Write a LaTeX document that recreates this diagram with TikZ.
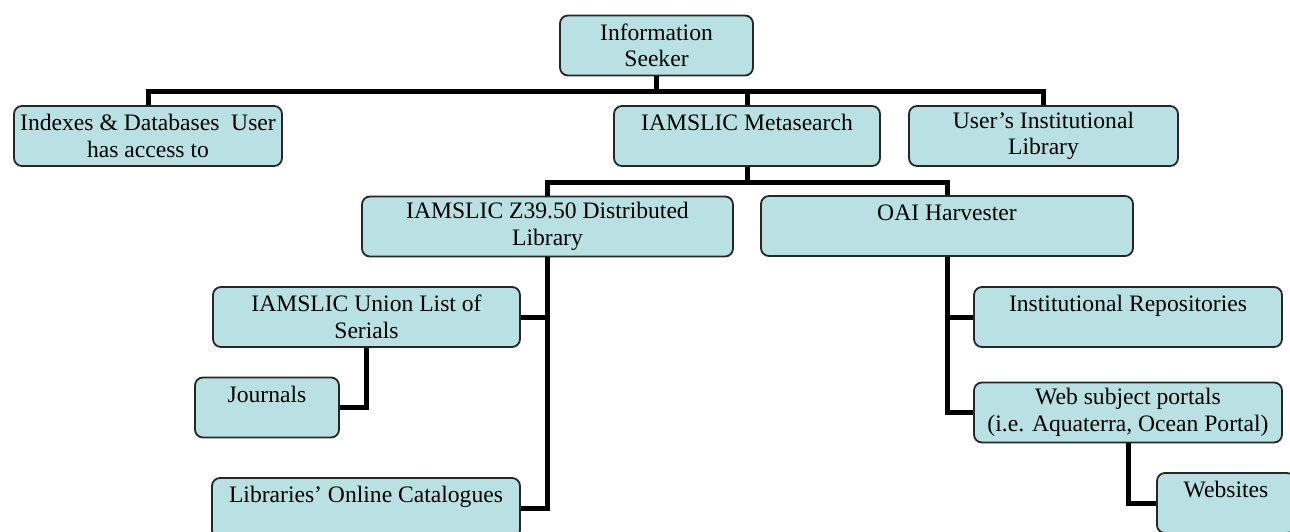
\documentclass[tikz,border=0pt]{standalone}
\usepackage{fontspec}
\setmainfont{Liberation Serif}
\definecolor{boxfill}{RGB}{185,224,227}

\begin{document}
\begin{tikzpicture}[x=0.5pt,y=-0.5pt]

      \useasboundingbox (0,0) rectangle (1290,531);
      \clip (0,0) rectangle (1290,531);

      \begin{scope}[every node/.style={draw=black!85,line width=0.9pt,fill=boxfill,
          rounded corners=4pt,align=center,minimum height=30pt,inner sep=1pt,
          font=\fontsize{11.8}{13.3}\selectfont}]
        \node[minimum width=96.5pt]  (seeker)   at (656.5,45.5) {Information\\Seeker};
        \node[minimum width=134pt]   (idx)      at (148,136)    {Indexes \& Databases~ User\\has access to};
        \node[minimum width=133pt]   (meta)     at (747,136)    {IAMSLIC Metasearch\\~};
        \node[minimum width=134.5pt] (user)     at (1043.5,136) {User’s Institutional\\Library};
        \node[minimum width=185.5pt] (z39)      at (547.5,226.5) {IAMSLIC Z39.50 Distributed\\Library};
        \node[minimum width=186pt]   (oai)      at (947,226)    {OAI Harvester\\~};
        \node[minimum width=153.5pt] (union)    at (366.5,317)  {IAMSLIC Union List of\\Serials};
        \node[minimum width=72pt]    (journals) at (267,407.5)  {Journals\\~};
        \node[minimum width=154pt]   (libs)     at (366,508)    {Libraries’ Online Catalogues\\~};
        \node[minimum width=154pt]   (inst)     at (1128,317)   {Institutional Repositories\\~};
        \node[minimum width=154pt]   (web)      at (1128,412.5) {Web subject portals\\(i.e. Aquaterra, Ocean Portal)};
        \node[minimum width=69pt]    (websites) at (1226,503)   {Websites\\~};
      \end{scope}

      \begin{scope}[line width=2.5pt,line join=miter]
        \draw (seeker.south) -- ++(0,15) -| (idx.north);
        \draw (seeker.south) -- ++(0,15) -| (meta.north);
        \draw (seeker.south) -- ++(0,15) -| (user.north);

        \draw (meta.south) -- ++(0,16) -| (z39.north);
        \draw (meta.south) -- ++(0,16) -| (oai.north);

        \draw (z39.south) |- (union.east);
        \draw (z39.south) |- (libs.east);
        \draw (union.south) |- (journals.east);

        \draw (oai.south) |- (inst.west);
        \draw (oai.south) |- (web.west);
        \draw (web.south) |- (websites.west);
      \end{scope}

    \end{tikzpicture}
\end{document}
